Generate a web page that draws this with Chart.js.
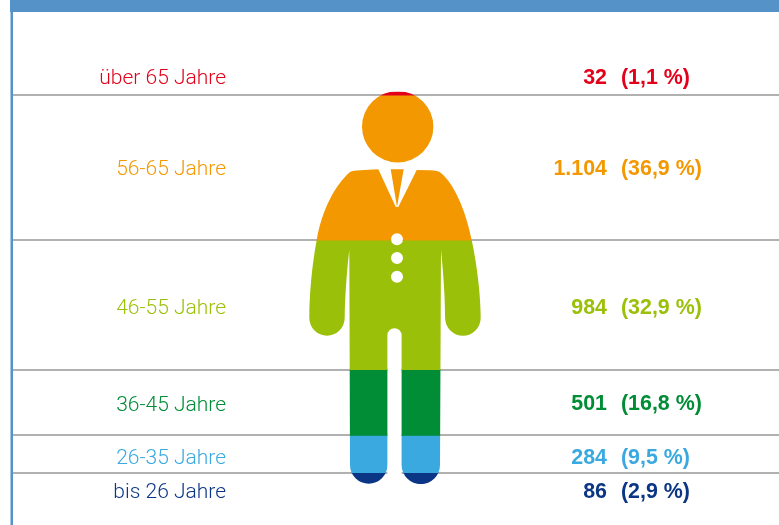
<!DOCTYPE html>
<html lang="de">
<head>
<meta charset="utf-8">
<style>html,body{margin:0;padding:0;background:#fff}canvas{display:block}</style>
<script src="https://cdn.jsdelivr.net/npm/chart.js@4"></script>
</head>
<body>
<canvas id="c" width="779" height="525"></canvas>
<script>
// Data, oldest group first (top of the figure)
const categories = ['Alle'];
const ageGroups = ['über 65 Jahre', '56-65 Jahre', '46-55 Jahre', '36-45 Jahre', '26-35 Jahre', 'bis 26 Jahre'];
const counts = [32, 1104, 984, 501, 284, 86];
const countLabels = ['32', '1.104', '984', '501', '284', '86'];
const percentLabels = ['(1,1 %)', '(36,9 %)', '(32,9 %)', '(16,8 %)', '(9,5 %)', '(2,9 %)'];

// Styling
const colors = ['#e2001a', '#f39800', '#9bc00a', '#008d36', '#3aa9e0', '#0b3585'];
const labelNudge = [-15, 1, 3, 2, 4, 13.5];
const frameColor = '#5592c8';
const lineColor = '#b1b1b1';
const lightFont = '300 21px Roboto, "Liberation Sans", sans-serif';
const boldFont = 'bold 21.4px "Liberation Sans", Arial, sans-serif';

const total = counts.reduce((a, b) => a + b, 0);
const cumulative = counts.reduce((acc, v) => { acc.push((acc[acc.length - 1] || 0) + v); return acc; }, []);

function bodyPath() {
  const p = new Path2D();
  // head
  p.moveTo(433.4, 126.7);
  p.arc(397.7, 126.7, 35.7, 0, Math.PI * 2);
  p.closePath();
  // tie
  p.moveTo(390.7, 169.3);
  p.lineTo(403.7, 169.3);
  p.lineTo(397, 207);
  p.closePath();
  // torso, arms, legs
  p.moveTo(378.3, 169.3);
  p.lineTo(395.8, 207);
  p.lineTo(398.3, 207);
  p.lineTo(416.7, 170);
  p.lineTo(430, 170.3);
  p.quadraticCurveTo(438, 170.5, 441, 173);
  p.bezierCurveTo(453, 183, 465, 207, 471.7, 240);
  p.bezierCurveTo(477, 265, 480.7, 295, 480.7, 318);
  p.arc(462.9, 318, 17.8, 0, Math.PI);
  p.bezierCurveTo(445, 295, 443, 270, 441, 250);
  p.lineTo(440, 465);
  p.arc(420.8, 465, 19.2, 0, Math.PI);
  p.lineTo(401.6, 335.3);
  p.arc(394.5, 335.3, 7.1, 0, Math.PI, true);
  p.lineTo(387.4, 465);
  p.arc(368.7, 465, 18.7, 0, Math.PI);
  p.lineTo(349.3, 250);
  p.bezierCurveTo(347, 270, 345, 295, 344.7, 318);
  p.arc(327, 318, 17.7, 0, Math.PI);
  p.bezierCurveTo(309.3, 295, 312, 265, 316.7, 240);
  p.bezierCurveTo(322, 210, 335, 185, 350, 172);
  p.quadraticCurveTo(353, 170.5, 360, 170.3);
  p.closePath();
  return p;
}
function buttonsPath() {
  const p = new Path2D();
  [239.3, 258, 276.7].forEach(y => { p.moveTo(403, y); p.arc(397, y, 6, 0, Math.PI * 2); p.closePath(); });
  return p;
}

const framePlugin = {
  id: 'frame',
  beforeDraw(chart) {
    const c = chart.ctx;
    c.save();
    c.fillStyle = '#fff';
    c.fillRect(0, 0, chart.width, chart.height);
    c.fillStyle = frameColor;
    c.fillRect(10, 0, chart.width - 10, 12);
    c.fillRect(10.5, 0, 2.5, chart.height);
    c.restore();
  }
};

const figurePlugin = {
  id: 'figure',
  beforeDatasetsDraw(chart) {
    const c = chart.ctx, a = chart.chartArea;
    const cx = chart.getDatasetMeta(0).data[0].x;
    c.save();
    c.translate(cx - 396, a.top - 91);
    // the figure knocks the rules out where it has holes
    c.fillStyle = '#fff';
    c.fill(buttonsPath());
    c.fillRect(387.4, 330, 14.2, 156);
    const body = bodyPath();
    body.addPath(buttonsPath());
    c.clip(body, 'evenodd');
    c.translate(-(cx - 396), -(a.top - 91));
  },
  afterDatasetsDraw(chart) {
    chart.ctx.restore();
  }
};

const labelPlugin = {
  id: 'labels',
  afterDraw(chart) {
    const c = chart.ctx, y = chart.scales.y;
    c.save();
    c.textBaseline = 'middle';
    ageGroups.forEach((name, i) => {
      const start = i ? cumulative[i - 1] : 0;
      const py = y.getPixelForValue((start + cumulative[i]) / 2) + labelNudge[i];
      c.fillStyle = colors[i];
      c.font = lightFont;
      c.textAlign = 'right';
      c.fillText(name, 226, py + 1);
      c.font = boldFont;
      c.fillText(countLabels[i], 607, py);
      c.textAlign = 'left';
      c.fillText(percentLabels[i], 621, py);
    });
    c.restore();
  }
};

new Chart(document.getElementById('c'), {
  type: 'bar',
  data: {
    labels: categories,
    datasets: counts.map((v, i) => ({
      label: ageGroups[i],
      data: [v],
      backgroundColor: colors[i],
      borderWidth: 0,
      barThickness: 200
    }))
  },
  options: {
    responsive: false,
    animation: false,
    layout: { padding: { left: 13, right: 0, top: 91, bottom: 41 } },
    plugins: { legend: { display: false }, tooltip: { enabled: false }, title: { display: false } },
    scales: {
      x: { stacked: true, display: false },
      y: {
        stacked: true,
        reverse: true,
        min: 0,
        max: total,
        afterBuildTicks(scale) { scale.ticks = [0].concat(cumulative).map(value => ({ value })); },
        ticks: { display: false },
        border: { display: false },
        grid: {
          drawTicks: false,
          lineWidth: 2,
          color: ctx => (ctx.tick && (ctx.tick.value === 0 || ctx.tick.value === total)) ? 'rgba(0,0,0,0)' : lineColor
        }
      }
    }
  },
  plugins: [framePlugin, figurePlugin, labelPlugin]
});
</script>
</body>
</html>
